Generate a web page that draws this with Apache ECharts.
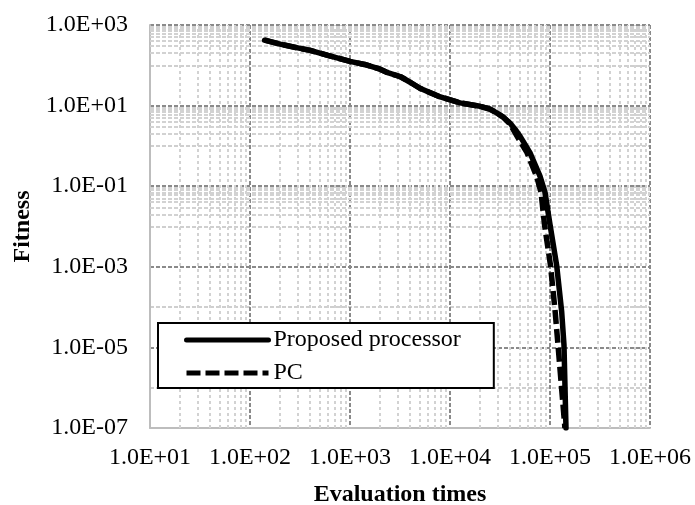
<!DOCTYPE html>
<html>
<head>
<meta charset="utf-8">
<script src="https://cdn.jsdelivr.net/npm/echarts@6/dist/echarts.min.js"></script>
<style>
  html, body { margin: 0; padding: 0; background: #fff; }
  #chart { width: 695px; height: 505px; }
</style>
</head>
<body>
<div id="chart"></div>
<script>
// values
const proposedX = [140, 200, 300, 400, 600, 1000, 1400, 2000, 2300, 3200, 4000, 5000, 8000, 12600, 20000, 25100, 29300, 34000, 39800, 44700, 50100, 63000, 79400, 89100, 100000, 116700, 130900, 138000, 144500];
const proposedY = [420, 335, 270, 235, 176, 125, 105, 80, 68, 52, 38, 27, 16.4, 11.7, 9.6, 8.2, 6.6, 5.2, 3.7, 2.6, 1.75, 0.68, 0.178, 0.0708, 0.0112, 1.07e-3, 7.6e-5, 1.15e-5, 1e-7];
const pcX = [140, 200, 300, 400, 600, 1000, 1400, 2000, 2300, 3200, 4000, 5000, 8000, 12600, 20000, 25100, 29300, 33900, 39800, 46800, 58900, 73300, 81300, 88100, 101200, 112700, 120200, 141000];
const pcY = [420, 335, 270, 235, 176, 125, 105, 80, 68, 52, 38, 27, 16.4, 11.7, 9.6, 8.2, 6.6, 5.2, 3.5, 1.75, 0.68, 0.178, 0.0708, 0.0112, 1.07e-3, 7.6e-5, 1.15e-5, 1e-7];

// grid helpers (minor gridlines, Excel style)
const xDecades = [1, 2, 3, 4, 5];
const yMinorDecades = [2, 0, -2, -4, -6];
const minorFactors = [2, 3, 4, 5, 6, 7, 8, 9];

const zip = (xs, ys) => xs.map((x, i) => [x, ys[i]]);

function expLabel(v) {
  const e = Math.round(Math.log10(v));
  const a = Math.abs(e);
  return '1.0E' + (e < 0 ? '-' : '+') + (a < 10 ? '0' + a : a);
}

const xMinor = [];
xDecades.forEach(d => minorFactors.forEach(k => xMinor.push({ xAxis: k * Math.pow(10, d) })));
const yMinor = [];
yMinorDecades.forEach(d => minorFactors.forEach(k => yMinor.push({ yAxis: k * Math.pow(10, d) })));

const font = 'Liberation Serif, Times New Roman, serif';
const chart = echarts.init(document.getElementById('chart'));

const option = {
  animation: false,
  backgroundColor: '#fff',
  textStyle: { fontFamily: font, color: '#000' },
  grid: { left: 150, right: 45, top: 25, bottom: 77, outerBoundsMode: 'none' },
  legend: {
    data: ['Proposed processor', 'PC'],
    orient: 'vertical',
    left: 158,
    top: 323,
    itemWidth: 82,
    itemHeight: 22,
    itemGap: 9,
    padding: [5, 33, 3, 26],
    backgroundColor: '#fff',
    borderColor: '#000',
    borderWidth: 2,
    borderRadius: 0,
    textStyle: { fontFamily: font, fontSize: 24, color: '#000' },
    lineStyle: { width: 5 },
    itemStyle: { color: 'transparent', borderWidth: 0 }
  },
  xAxis: {
    type: 'log',
    logBase: 10,
    min: 10,
    max: 1e6,
    interval: 1,
    splitNumber: 5,
    name: 'Evaluation times',
    nameLocation: 'middle',
    nameGap: 55,
    nameTextStyle: { fontFamily: font, fontSize: 24, fontWeight: 'bold', color: '#000' },
    axisLine: { lineStyle: { color: '#bdbdbd', width: 2 } },
    axisTick: { show: false },
    axisLabel: { formatter: expLabel, fontFamily: font, fontSize: 24, color: '#000', margin: 18 },
    splitLine: { show: true, lineStyle: { color: '#8a8a8a', width: 2, type: [4, 2] } }
  },
  yAxis: {
    type: 'log',
    logBase: 10,
    min: 1e-7,
    max: 1e3,
    interval: 1,
    splitNumber: 10,
    name: 'Fitness',
    nameLocation: 'middle',
    nameRotate: 90,
    nameGap: 109,
    nameTextStyle: { fontFamily: font, fontSize: 24, fontWeight: 'bold', color: '#000' },
    axisLine: { show: true, lineStyle: { color: '#bdbdbd', width: 2 } },
    axisTick: { show: false },
    axisLabel: {
      formatter: v => (Math.round(Math.log10(v)) % 2 !== 0 ? expLabel(v) : ''),
      fontFamily: font, fontSize: 24, color: '#000', margin: 22
    },
    splitLine: { show: true, lineStyle: { color: ['#8a8a8a', '#cfcfcf'], width: 2, type: [4, 2] } }
  },
  series: [
    {
      name: 'xMinor',
      type: 'line',
      data: [],
      silent: true,
      z: 1,
      markLine: {
        z: 1,
        silent: true,
        symbol: 'none',
        label: { show: false },
        lineStyle: { color: '#d2d2d2', width: 2, type: [3, 3] },
        data: xMinor
      }
    },
    {
      name: 'yMinor',
      type: 'line',
      data: [],
      silent: true,
      z: 1,
      markLine: {
        z: 1,
        silent: true,
        symbol: 'none',
        label: { show: false },
        lineStyle: { color: '#d2d2d2', width: 2, type: [4, 2] },
        data: yMinor
      }
    },
    {
      name: 'PC',
      type: 'line',
      data: zip(pcX, pcY),
      symbol: 'none',
      z: 3,
      lineStyle: { color: '#000', width: 5.5, type: [14, 5] }
    },
    {
      name: 'Proposed processor',
      type: 'line',
      data: zip(proposedX, proposedY),
      symbol: 'none',
      z: 4,
      lineStyle: { color: '#000', width: 5.5, join: 'round', cap: 'round' }
    }
  ]
};

chart.setOption(option);
</script>
</body>
</html>
